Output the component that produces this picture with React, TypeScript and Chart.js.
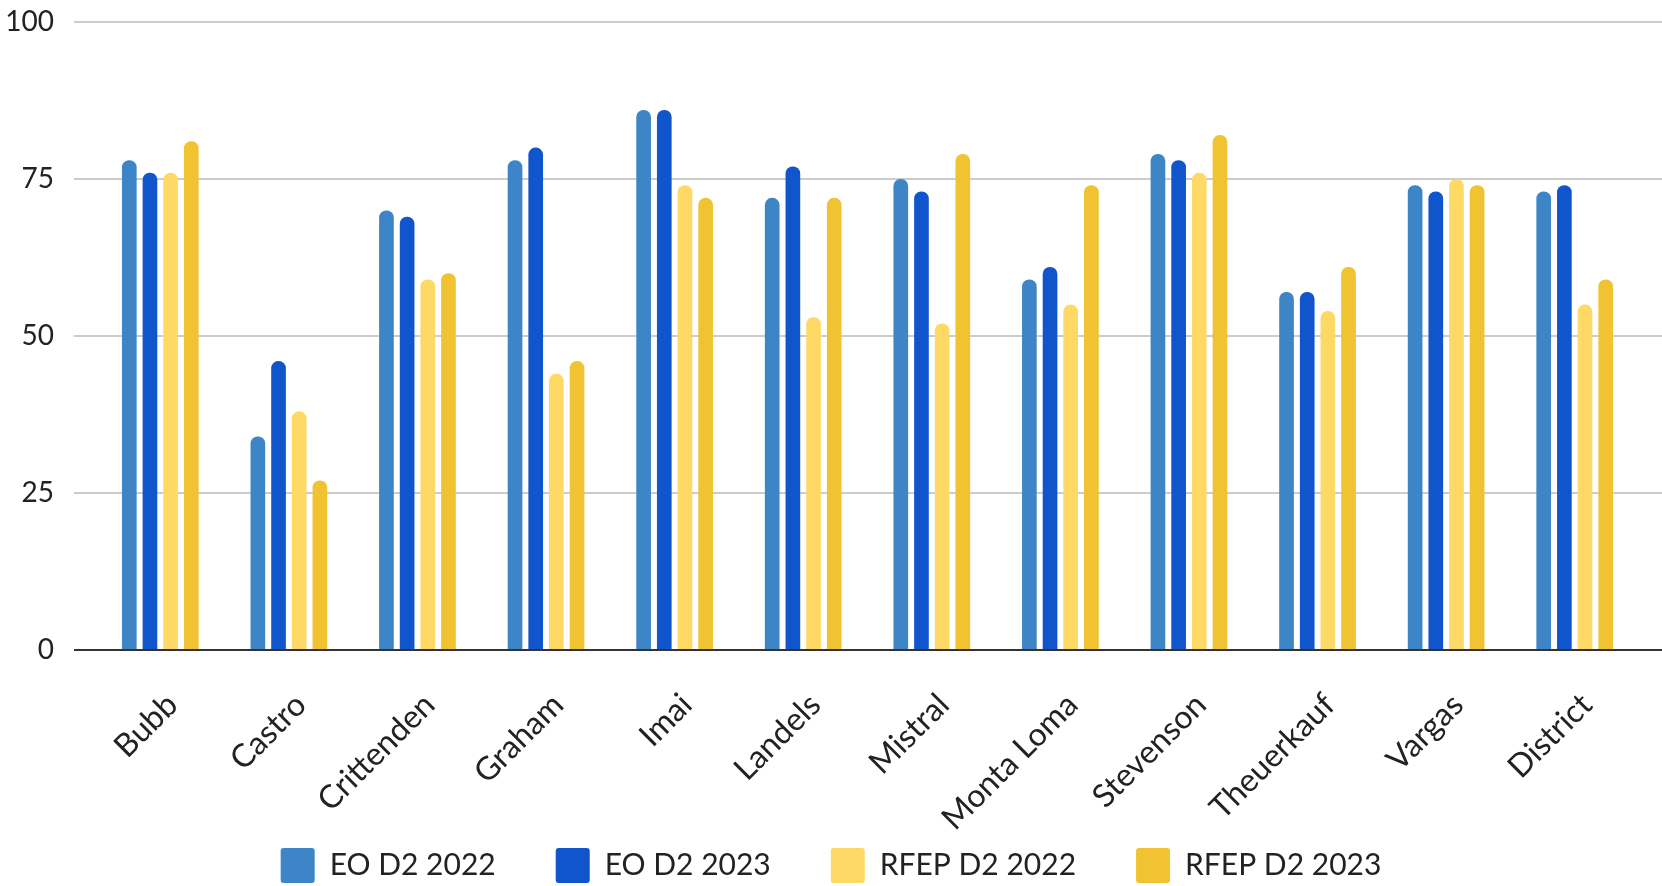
import React, { useEffect, useRef } from 'react';
import { Chart, registerables } from 'chart.js';

Chart.register(...registerables);

const categories = ['Bubb', 'Castro', 'Crittenden', 'Graham', 'Imai', 'Landels', 'Mistral', 'Monta Loma', 'Stevenson', 'Theuerkauf', 'Vargas', 'District'];
const eoD2_2022 = [78, 34, 70, 78, 86, 72, 75, 59, 79, 57, 74, 73];
const eoD2_2023 = [76, 46, 69, 80, 86, 77, 73, 61, 78, 57, 73, 74];
const rfepD2_2022 = [76, 38, 59, 44, 74, 53, 52, 55, 76, 54, 75, 55];
const rfepD2_2023 = [81, 27, 60, 46, 72, 72, 79, 74, 82, 61, 74, 59];
const seriesLabels = ['EO D2 2022', 'EO D2 2023', 'RFEP D2 2022', 'RFEP D2 2023'];
const seriesColors = ['#3d85c6', '#1155cc', '#ffd966', '#f1c232'];
const yMin = 0;
const yMax = 100;
const yStep = 25;

// lets rotated category labels extend below the x-axis box without being clipped
const labelClipPlugin = {
  id: 'labelClip',
  afterLayout(chart: any) {
    const x = chart.scales.x;
    if (x) x.bottom = chart.height;
  },
};

export default function App() {
  const canvasRef = useRef<HTMLCanvasElement | null>(null);

  useEffect(() => {
    if (!canvasRef.current) return;
    const seriesValues = [eoD2_2022, eoD2_2023, rfepD2_2022, rfepD2_2023];
    const gridColor = (ctx: any) => (ctx.tick && ctx.tick.value === 0 ? '#333333' : '#cccccc');
    const chart = new Chart(canvasRef.current, {
      type: 'bar',
      data: {
        labels: categories,
        datasets: seriesLabels.map((label, i) => ({
          label,
          data: seriesValues[i],
          backgroundColor: seriesColors[i],
          borderWidth: 0,
          borderRadius: 7,
          borderSkipped: 'start',
          categoryPercentage: 0.643,
          barPercentage: 0.71,
          yAxisID: 'y',
        })),
      },
      plugins: [labelClipPlugin],
      options: {
        animation: false,
        responsive: true,
        maintainAspectRatio: false,
        font: { family: 'Lato', size: 30 },
        layout: { padding: { top: 22, bottom: 0, left: 0, right: 0 } },
        plugins: {
          tooltip: { enabled: false },
          legend: {
            position: 'bottom',
            labels: {
              boxWidth: 34,
              boxHeight: 35,
              padding: 60,
              color: '#222222',
              useBorderRadius: true,
              borderRadius: 3,
              font: { family: 'Lato', size: 30 },
            },
          },
        },
        scales: {
          x: {
            grid: { display: false, drawTicks: false },
            border: { display: false },
            ticks: {
              autoSkip: false,
              maxRotation: 45,
              minRotation: 45,
              padding: 36,
              labelOffset: 12,
              color: '#222222',
              font: { family: 'Lato', size: 32 },
            },
            afterFit: (scale: any) => {
              scale.height = 138;
              scale.paddingLeft = 0;
              scale.paddingRight = 0;
            },
          },
          y: {
            position: 'left',
            min: yMin,
            max: yMax,
            ticks: {
              stepSize: yStep,
              padding: 20,
              color: '#222222',
              font: { family: 'Lato', size: 28 },
            },
            border: { display: false },
            grid: {
              color: gridColor,
              lineWidth: 2,
              drawTicks: true,
              tickLength: 22,
            },
            afterFit: (scale: any) => {
              scale.width = 96;
              scale.paddingTop = 0;
              scale.paddingBottom = 0;
            },
          },
          yRight: {
            type: 'linear',
            position: 'right',
            min: yMin,
            max: yMax,
            ticks: { stepSize: yStep, display: false },
            border: { display: false },
            grid: {
              color: gridColor,
              lineWidth: 2,
              drawOnChartArea: false,
              drawTicks: true,
              tickLength: 23,
            },
            afterFit: (scale: any) => {
              scale.width = 23;
              scale.paddingTop = 0;
              scale.paddingBottom = 0;
            },
          },
        },
      } as any,
    });
    return () => chart.destroy();
  }, []);

  return (
    <div style={{ position: 'absolute', left: 0, top: 0, width: 1662, height: 886, overflow: 'hidden', background: '#ffffff' }}>
      <div style={{ position: 'relative', width: 1662, height: 893 }}>
        <canvas ref={canvasRef} />
      </div>
    </div>
  );
}
